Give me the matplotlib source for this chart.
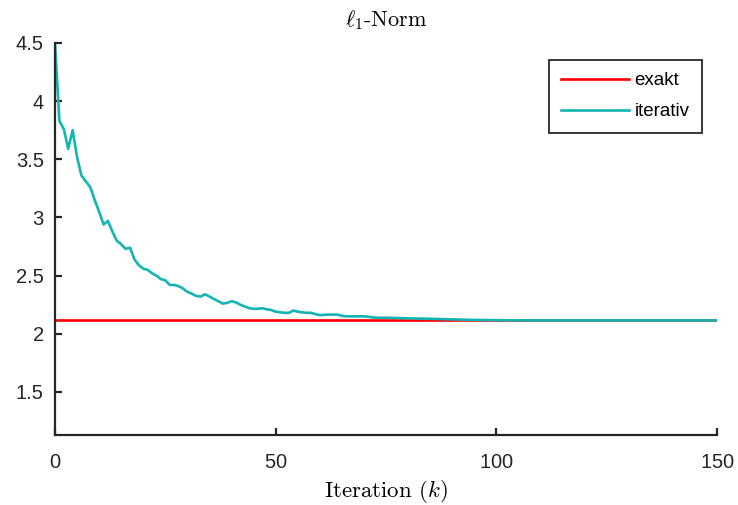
import matplotlib
matplotlib.use("Agg")
import matplotlib.pyplot as plt
import numpy as np

plt.rcParams['mathtext.fontset'] = 'cm'
plt.rcParams['axes.formatter.use_mathtext'] = True

exakt_value = 2.115
iterativ = [
    4.50, 3.83, 3.76, 3.59, 3.75, 3.52, 3.36, 3.31, 3.26, 3.15,
    3.05, 2.94, 2.97, 2.88, 2.80, 2.77, 2.73, 2.74, 2.64, 2.59,
    2.56, 2.55, 2.52, 2.50, 2.47, 2.46, 2.42, 2.42, 2.41, 2.39,
    2.36, 2.345, 2.325, 2.32, 2.34, 2.32, 2.30, 2.28, 2.26, 2.265,
    2.28, 2.27, 2.25, 2.235, 2.22, 2.215, 2.215, 2.22, 2.21, 2.205,
    2.19, 2.185, 2.18, 2.18, 2.20, 2.19, 2.185, 2.18, 2.18, 2.17,
    2.16, 2.163, 2.165, 2.165, 2.165, 2.155, 2.15, 2.15, 2.15, 2.15,
    2.15, 2.147, 2.14, 2.138, 2.138, 2.138, 2.137, 2.136, 2.135, 2.134,
    2.133, 2.132, 2.131, 2.131, 2.130, 2.129, 2.128, 2.127, 2.126, 2.125,
    2.124, 2.123, 2.122, 2.121, 2.120, 2.119, 2.119, 2.118, 2.118, 2.117,
    2.117, 2.117, 2.116, 2.116, 2.116, 2.116, 2.116, 2.115, 2.115, 2.115,
    2.115, 2.115, 2.115, 2.115, 2.115, 2.115, 2.115, 2.115, 2.115, 2.115,
    2.115, 2.115, 2.115, 2.115, 2.115, 2.115, 2.115, 2.115, 2.115, 2.115,
    2.115, 2.115, 2.115, 2.115, 2.115, 2.115, 2.115, 2.115, 2.115, 2.115,
    2.115, 2.115, 2.115, 2.115, 2.115, 2.115, 2.115, 2.115, 2.115, 2.115,
    2.115,
]
k = np.arange(len(iterativ))
xticks = [0, 50, 100, 150]
yticks = [1.5, 2, 2.5, 3, 3.5, 4, 4.5]
yticklabels = ['1.5', '2', '2.5', '3', '3.5', '4', '4.5']

fig = plt.figure(figsize=(7.38, 5.05), dpi=100)
ax = fig.add_axes([0.0745, 0.1386, 0.897, 0.7763])

ax.plot([k[0], k[-1]], [exakt_value, exakt_value], color='#ff0000', lw=1.9, label='exakt')
ax.plot(k, iterativ, color='#13b5b3', lw=1.9, label='iterativ')

ax.set_xlim(0, 150)
ax.set_ylim(1.13, 4.5)
ax.set_xticks(xticks)
ax.set_yticks(yticks)
ax.set_yticklabels(yticklabels)

for s in ['top', 'right']:
    ax.spines[s].set_visible(False)
for s in ['left', 'bottom']:
    ax.spines[s].set_linewidth(1.6)
    ax.spines[s].set_color('#262626')
ax.tick_params(direction='in', length=5, width=1.6, color='#262626',
               labelsize=14.5, labelcolor='#262626')
ax.tick_params(axis='x', pad=13)
ax.tick_params(axis='y', pad=8)
for lbl in ax.get_xticklabels() + ax.get_yticklabels():
    lbl.set_fontfamily('Liberation Sans')

ax.set_title(r'$\ell_1$-Norm', fontfamily='cmr10', fontsize=16, pad=12)
ax.set_xlabel(r'Iteration $(k)$', fontfamily='cmr10', fontsize=16.5, labelpad=4)

leg = ax.legend(loc='upper right', bbox_to_anchor=(0.977, 0.957), borderaxespad=0,
                fancybox=False, edgecolor='#262626', framealpha=1,
                prop={'family': 'Liberation Sans', 'size': 13.5},
                handlelength=3.6, handletextpad=0.3, labelspacing=0.75,
                borderpad=0.65)
leg.get_frame().set_linewidth(1.3)

fig.savefig('out.png', dpi=100)
